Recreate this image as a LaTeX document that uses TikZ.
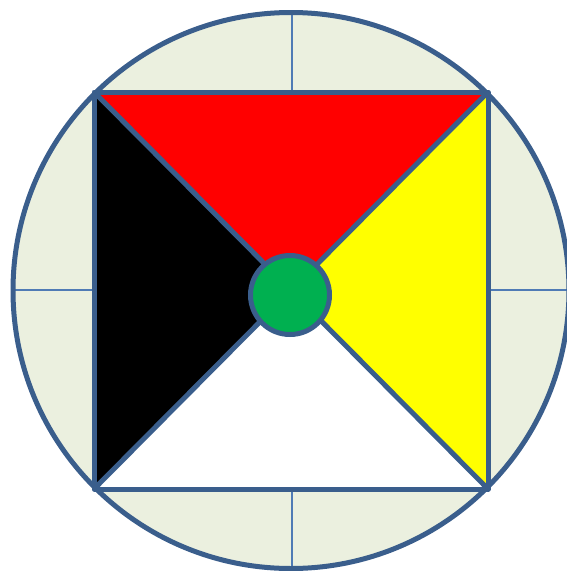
\documentclass[tikz,border=0pt]{standalone}
\definecolor{edge}{HTML}{3A5E8C}
\definecolor{thin}{HTML}{4F7BB5}
\definecolor{bg}{HTML}{EBF0DF}
\definecolor{grn}{HTML}{00B050}
\definecolor{ylw}{HTML}{FFFF00}
\definecolor{rd}{HTML}{FF0000}
\definecolor{blk}{HTML}{000000}
\definecolor{wht}{HTML}{FFFFFF}
\begin{document}
\begin{tikzpicture}[x=1pt,y=-1pt,
  thick edge/.style={draw=edge,line width=5pt,line join=round},
  thin edge/.style={draw=thin,line width=1.4pt}]
\useasboundingbox (0,0) rectangle (567,571);
\coordinate (C) at (291,290.5);
\coordinate (TL) at (94,92);
\coordinate (TR) at (488,92);
\coordinate (BR) at (488,489);
\coordinate (BL) at (94,489);
\coordinate (T) at (292,12.5);
\coordinate (B) at (292,568.5);
\coordinate (L) at (13,290);
\coordinate (R) at (569,290);
\coordinate (T2) at (292,92);
\coordinate (B2) at (292,489);
\coordinate (L2) at (94,290);
\coordinate (R2) at (488,290);
\fill[bg] (C) circle (278);
\draw[thin edge] (T) -- (T2) (B) -- (B2) (L) -- (L2) (R) -- (R2);
\fill[rd] (TL) -- (TR) -- (C) -- cycle;
\fill[ylw] (TR) -- (BR) -- (C) -- cycle;
\fill[wht] (BR) -- (BL) -- (C) -- cycle;
\fill[blk] (BL) -- (TL) -- (C) -- cycle;
\draw[thick edge] (C) circle (278);
\draw[thick edge] (TL) -- (TR) -- (BR) -- (BL) -- cycle;
\draw[thick edge] (TL) -- (C) -- (BR) (TR) -- (C) -- (BL);
\node[circle,fill=grn,draw=edge,line width=5pt,minimum size=79pt,inner sep=0pt] (G) at (290,295) {};
\end{tikzpicture}
\end{document}
